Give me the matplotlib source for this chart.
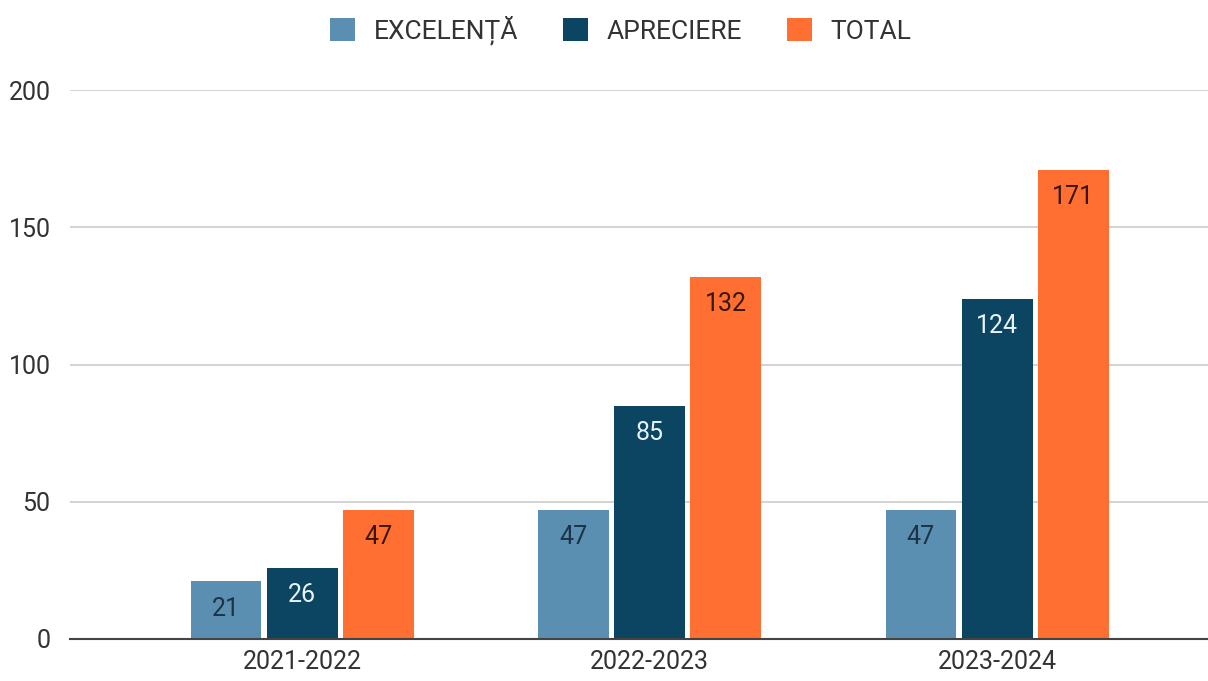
import numpy as np
import matplotlib.pyplot as plt

plt.rcParams['font.family'] = ['Roboto', 'DejaVu Sans']

years = ['2021-2022', '2022-2023', '2023-2024']
excelenta = [21, 47, 47]
apreciere = [26, 85, 124]
total = [47, 132, 171]

series = [
    ('EXCELENȚĂ', excelenta, '#5b8fb1', '#1c3347'),
    ('APRECIERE', apreciere, '#0b4562', '#e8f2f8'),
    ('TOTAL', total, '#ff6f31', '#3a1608'),
]

fig = plt.figure(figsize=(12.08, 6.81), dpi=100)
ax = fig.add_axes([70 / 1208, 42 / 681, 1 - 70 / 1208, 549 / 681])

x = np.arange(len(years))
width = 0.204
step = 0.219

for i, (name, vals, color, tcolor) in enumerate(series):
    pos = x + (i - 1) * step
    ax.bar(pos, vals, width=width, color=color, label=name, zorder=3)
    for p, v in zip(pos, vals):
        ax.text(p, v - 10, str(v), ha='center', va='center',
                fontsize=18, color=tcolor, zorder=4)

ax.set_ylim(0, 200)
ax.set_xlim(-0.668, 2.607)
ax.set_yticks([0, 50, 100, 150, 200])
ax.set_xticks(x)
ax.set_xticklabels(years)
ax.tick_params(axis='both', length=0, labelsize=18, colors='#333333')
ax.tick_params(axis='y', pad=14)
ax.tick_params(axis='x', pad=8)
ax.grid(axis='y', color='#cccccc', linewidth=1.2, zorder=0)
for s in ['top', 'right', 'left']:
    ax.spines[s].set_visible(False)
ax.spines['bottom'].set_color('#444444')
ax.spines['bottom'].set_linewidth(1.5)
ax.spines['bottom'].set_zorder(5)

fig.legend(loc='upper center', bbox_to_anchor=(0.514, 1.012), ncol=3,
           frameon=False, fontsize=19, handlelength=0.95, handleheight=0.95,
           columnspacing=1.7, handletextpad=0.7, labelcolor='#333333')

fig.savefig('out.png', dpi=100)
